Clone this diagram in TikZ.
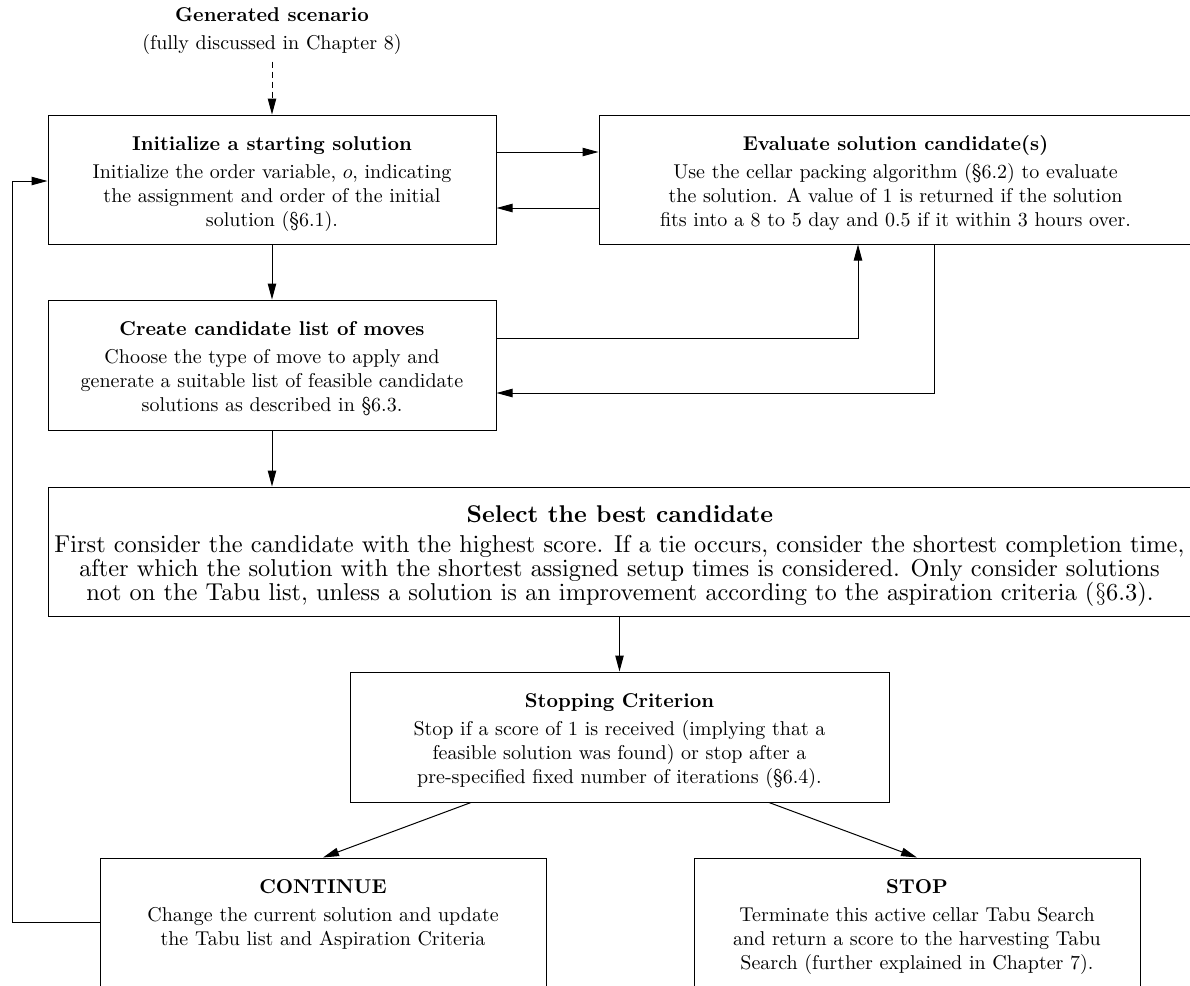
\documentclass[tikz,border=0pt]{standalone}
\usetikzlibrary{arrows.meta}
% text of the wide selection box: 10pt design faces set larger
\font\selrm=cmr10 at 12.2pt
\font\selbf=cmbx10 at 12.1pt
\font\selsy=cmsy10 at 12.2pt
\newcommand\selS{{\selsy\char"78}}
\begin{document}
\begin{tikzpicture}[x=0.5pt,y=-0.5pt,
  box/.style={draw, line width=0.5pt, inner sep=0pt},
  txt/.style={align=center, inner sep=0pt, anchor=north, font=\fontsize{10}{12}\selectfont},
  bigtxt/.style={txt, font=\fontsize{12}{12}\selectfont\selrm},
  arr/.style={-{Triangle[length=8pt,width=4.2pt]}, line width=0.5pt},
  dasharr/.style={arr, dash pattern=on 3pt off 2pt}]
\useasboundingbox (0,0) rectangle (1190,986);
\clip (0,0) rectangle (1190,986);

% boxes
\node[box, minimum width=224pt,   minimum height=64.5pt] (b1) at (272,179.5) {};
\node[box, minimum width=296.5pt, minimum height=64.5pt] (b2) at (895.5,179.5) {};
\node[box, minimum width=224pt,   minimum height=65pt]   (b3) at (272,365) {};
\node[box, minimum width=572pt,   minimum height=64.5pt] (b4) at (620,551.5) {};
\node[box, minimum width=269.5pt, minimum height=65pt]   (b5) at (619.5,737) {};
\node[box, minimum width=223pt,   minimum height=71pt]   (b6) at (323,929) {};
\node[box, minimum width=223pt,   minimum height=71pt]   (b7) at (917,929) {};

% texts
\node[txt, anchor=north] (gen) at (272,4)
  {\strut\textbf{Generated scenario}\\[2pt](fully discussed in Chapter 8)};
\node[txt] (t1) at ([yshift=-9.35pt]b1.north)
  {\strut\textbf{Initialize a starting solution}\\[2pt]
   Initialize the order variable, $o$, indicating\\
   the assignment and order of the initial\\
   solution (\S6.1).};
\node[txt] (t2) at ([yshift=-9.35pt]b2.north)
  {\strut\textbf{Evaluate solution candidate(s)}\\[2pt]
   Use the cellar packing algorithm (\S6.2) to evaluate\\
   the solution. A value of 1 is returned if the solution\\
   fits into a 8 to 5 day and 0.5 if it within 3 hours over.};
\node[txt] (t3) at ([yshift=-9.35pt]b3.north)
  {\strut\textbf{Create candidate list of moves}\\[2pt]
   Choose the type of move to apply and\\
   generate a suitable list of feasible candidate\\
   solutions as described in \S6.3.};
\node[bigtxt] (t4) at ([yshift=-9.2pt]b4.north)
  {\strut{\selbf Select the best candidate}\\[2pt]
   \selrm First consider the candidate with the highest score. If a tie occurs, consider the shortest completion time,\\
   \selrm after which the solution with the shortest assigned setup times is considered. Only consider solutions\\
   \selrm not on the Tabu list, unless a solution is an improvement according to the aspiration criteria (\selS6.3).};
\node[txt] (t5) at ([yshift=-9.35pt]b5.north)
  {\strut\textbf{Stopping Criterion}\\[2pt]
   Stop if a score of 1 is received (implying that a\\
   feasible solution was found) or stop after a\\
   pre-specified fixed number of iterations (\S6.4).};
\node[txt] (t6) at ([yshift=-9.35pt]b6.north)
  {\strut\textbf{CONTINUE}\\[2pt]
   Change the current solution and update\\
   the Tabu list and Aspiration Criteria};
\node[txt] (t7) at ([yshift=-9.35pt]b7.north)
  {\strut\textbf{STOP}\\[2pt]
   Terminate this active cellar Tabu Search\\
   and return a score to the harvesting Tabu\\
   Search (further explained in Chapter 7).};

% connectors
\draw[dasharr, shorten <=3.5pt] (gen.south) -- (b1.north);
\draw[arr] ([yshift=13.75pt]b1.east) -- ([yshift=13.75pt]b2.west);
\draw[arr] ([yshift=-14.25pt]b2.west) -- ([yshift=-14.25pt]b1.east);
\draw[arr] (b1.south) -- (b3.north);
\draw[arr] ([yshift=13.5pt]b3.east) -| ([xshift=-18.75pt]b2.south);
\draw[arr] ([xshift=19.25pt]b2.south) |- ([yshift=-14pt]b3.east);
\draw[arr] (b3.south) -- (b3.south |- b4.north);
\draw[arr] (b5.north |- b4.south) -- (b5.north);
\draw[arr] ([xshift=-74.25pt]b5.south) -- (b6.north);
\draw[arr] ([xshift=74.75pt]b5.south) -- (b7.north);
\draw[arr] ([yshift=3.5pt]b6.west) -- ++(-87,0) |- ([yshift=-0.75pt]b1.west);
\end{tikzpicture}
\end{document}
